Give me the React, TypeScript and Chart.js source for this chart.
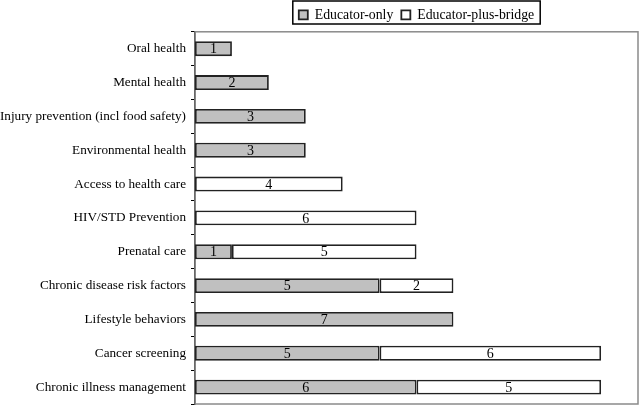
import React, { useEffect, useRef } from "react";
import { Chart, registerables } from "chart.js";

Chart.register(...registerables);

const categories = [
  "Oral health",
  "Mental health",
  "Injury prevention (incl food safety)",
  "Environmental health",
  "Access to health care",
  "HIV/STD Prevention",
  "Prenatal care",
  "Chronic disease risk factors",
  "Lifestyle behaviors",
  "Cancer screening",
  "Chronic illness management",
];
const educatorOnly = [1, 2, 3, 3, 0, 0, 1, 5, 7, 5, 6];
const educatorPlusBridge = [0, 0, 0, 0, 4, 6, 5, 2, 0, 6, 5];
const seriesNames = ["Educator-only", "Educator-plus-bridge"];
const xMax = 12;

const FONT = "'Liberation Serif', 'Times New Roman', serif";

const framePlugin = {
  id: "frame",
  beforeDatasetsDraw(chart: any) {
    const { ctx, chartArea } = chart;
    ctx.save();
    ctx.strokeStyle = "#8a8a8a";
    ctx.lineWidth = 1.5;
    ctx.strokeRect(chartArea.left, chartArea.top, chartArea.right - chartArea.left, chartArea.bottom - chartArea.top);
    ctx.restore();
  },
};

const valueLabels = {
  id: "valueLabels",
  afterDatasetsDraw(chart: any) {
    const { ctx } = chart;
    ctx.save();
    ctx.font = `14px ${FONT}`;
    ctx.fillStyle = "#000";
    ctx.textAlign = "center";
    ctx.textBaseline = "middle";
    chart.data.datasets.forEach((ds: any, di: number) => {
      const meta = chart.getDatasetMeta(di);
      meta.data.forEach((el: any, i: number) => {
        const v = ds.data[i];
        if (!v) return;
        const cx = (el.x + el.base) / 2;
        ctx.fillText(String(v), cx, el.y + 1);
      });
    });
    ctx.restore();
  },
};

const legendBox = {
  id: "legendBox",
  afterDraw(chart: any) {
    const lg = chart.legend;
    if (!lg || !lg.legendHitBoxes || !lg.legendHitBoxes.length) return;
    const boxes = lg.legendHitBoxes;
    const first = boxes[0];
    const last = boxes[boxes.length - 1];
    const { ctx } = chart;
    ctx.save();
    ctx.strokeStyle = "#000";
    ctx.lineWidth = 1.5;
    const x1 = first.left - 6;
    const x2 = last.left + last.width + 6;
    ctx.strokeRect(x1, 1, x2 - x1, 23);
    ctx.restore();
  },
};

export default function App() {
  const ref = useRef<HTMLCanvasElement>(null);
  useEffect(() => {
    document.body.style.margin = "0";
    const c = new Chart(ref.current!, {
      type: "bar",
      data: {
        labels: categories,
        datasets: [
          {
            label: seriesNames[0],
            data: educatorOnly,
            backgroundColor: "#c0c0c0",
            borderColor: "#222222",
            borderWidth: 1.8,
            borderSkipped: false,
            barPercentage: 0.44,
            categoryPercentage: 1,
          },
          {
            label: seriesNames[1],
            data: educatorPlusBridge,
            backgroundColor: "#ffffff",
            borderColor: "#222222",
            borderWidth: 1.8,
            borderSkipped: false,
            barPercentage: 0.44,
            categoryPercentage: 1,
          },
        ],
      },
      options: {
        indexAxis: "y",
        responsive: false,
        animation: false,
        layout: { padding: { left: 0, right: 2, bottom: 3, top: 0 } },
        scales: {
          x: {
            stacked: true,
            min: 0,
            max: xMax,
            display: false,
          },
          y: {
            stacked: true,
            afterFit(scale: any) {
              scale.width = 195;
              scale.paddingTop = 0;
              scale.paddingBottom = 0;
            },
            grid: {
              offset: true,
              drawOnChartArea: false,
              drawTicks: true,
              tickLength: 4,
              color: "#000",
            },
            border: { color: "#000", width: 1.5 },
            ticks: {
              color: "#000",
              font: { family: FONT, size: 13.2 },
              padding: 5,
            },
          },
        },
        plugins: {
          legend: {
            display: true,
            position: "top",
            fullSize: false,
            labels: {
              color: "#000",
              font: { family: FONT, size: 13.8 },
              boxWidth: 9,
              boxHeight: 9,
              padding: 8,
            },
          },
          tooltip: { enabled: false },
        },
      },
      plugins: [framePlugin, valueLabels, legendBox],
    } as any);
    return () => c.destroy();
  }, []);
  return (
    <div style={{ width: 640, height: 407 }}>
      <canvas ref={ref} width={640} height={407} />
    </div>
  );
}
